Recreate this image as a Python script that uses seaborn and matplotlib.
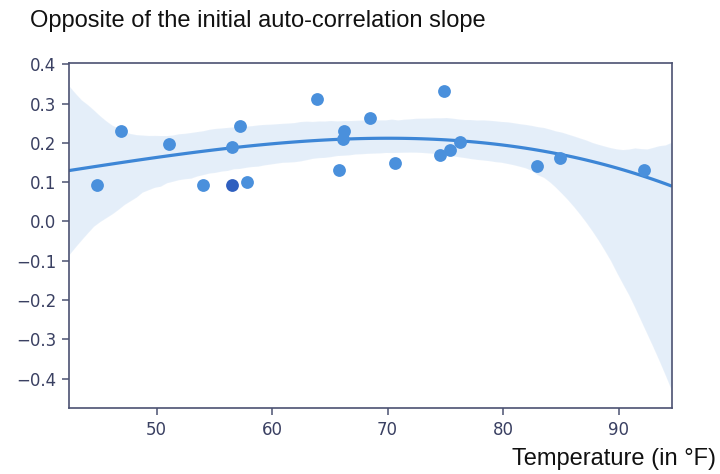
import numpy as np
import pandas as pd
import matplotlib
matplotlib.use("Agg")
import matplotlib.pyplot as plt
import seaborn as sns

temperature = [44.8, 46.9, 51.1, 54.0, 56.5, 57.2, 57.8, 63.9, 65.8, 66.1, 66.2,
               68.5, 70.6, 74.5, 74.9, 75.4, 76.3, 82.9, 84.9, 92.2]
slope = [0.093, 0.230, 0.197, 0.093, 0.189, 0.242, 0.101, 0.311, 0.130, 0.210, 0.230,
         0.262, 0.149, 0.170, 0.331, 0.183, 0.202, 0.142, 0.161, 0.130]
highlight_temp = [56.5]
highlight_slope = [0.093]
x_ticks = [50, 60, 70, 80, 90]
y_ticks = [0.4, 0.3, 0.2, 0.1, 0.0, -0.1, -0.2, -0.3, -0.4]

df = pd.DataFrame({"temperature": temperature, "slope": slope})

sns.set_style("white")
fig = plt.figure(figsize=(7.2, 4.74), dpi=100)
ax = fig.add_axes([0.0958, 0.139, 0.837, 0.728])

sns.regplot(data=df, x="temperature", y="slope", order=3, truncate=False, ax=ax,
            color="#4a90dc", ci=95, n_boot=1000, seed=7,
            scatter_kws={"s": 85, "alpha": 1.0, "linewidths": 0, "zorder": 3},
            line_kws={"lw": 2.3, "color": "#3d86d6"})
ax.scatter(highlight_temp, highlight_slope, s=85, color="#2f5fbf", linewidths=0, zorder=4)

for coll in ax.collections:
    if isinstance(coll, matplotlib.collections.PolyCollection):
        coll.set_facecolor("#4a90dc")
        coll.set_alpha(0.15)

ax.set_xlim(42.4, 94.6)
ax.set_ylim(-0.475, 0.403)
ax.set_xticks(x_ticks)
ax.set_yticks(y_ticks)
ax.set_yticklabels([f"{v:.1f}".replace("-", "\u2212") for v in y_ticks])
ax.set_xlabel("")
ax.set_ylabel("")
for s in ax.spines.values():
    s.set_color("#4b5272")
    s.set_linewidth(1.2)
ax.tick_params(axis="both", direction="out", length=5, width=1.1, color="#4b5272",
               labelcolor="#3a4062", labelsize=12, bottom=True, left=True, pad=4)

fig.text(0.042, 0.942, "Opposite of the initial auto-correlation slope",
         family="Liberation Sans", fontsize=17, color="#111111", ha="left", va="baseline")
fig.text(0.995, 0.02, "Temperature (in °F)", family="Liberation Sans", fontsize=17,
         color="#111111", ha="right", va="baseline")

fig.savefig("out.png", dpi=100)
